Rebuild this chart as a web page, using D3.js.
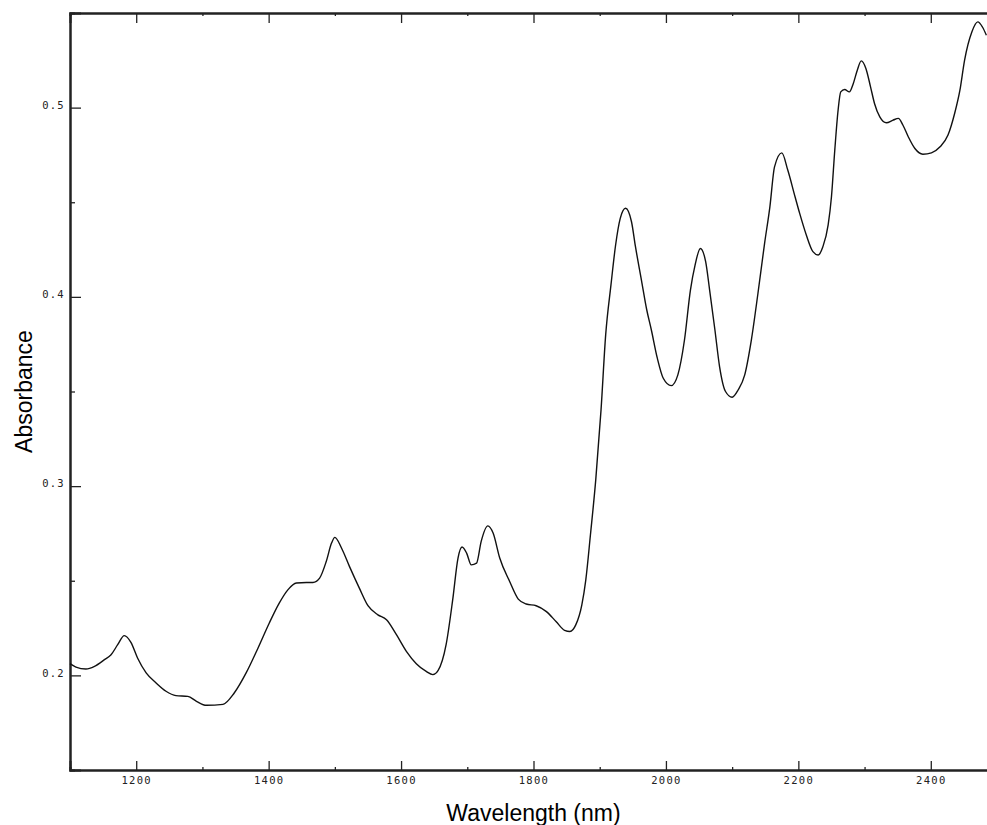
<!DOCTYPE html>
<html>
<head>
<meta charset="utf-8">
<script src="https://cdn.jsdelivr.net/npm/d3@7"></script>
<style>
  body { margin: 0; background: #fff; }
  .tick text { font-family: "DejaVu Sans Mono", monospace; font-size: 10.5px; letter-spacing: 1.3px; fill: #222; }
  .title { font-family: "Liberation Sans", Arial, sans-serif; font-size: 23px; fill: #000; }
</style>
</head>
<body>
<svg width="987" height="825"></svg>
<script>
// Spectrum
const wavelength = [1100, 1109, 1124, 1137, 1152, 1162, 1172, 1182, 1192, 1202, 1215, 1230, 1245, 1260, 1278, 1291, 1306, 1331, 1348, 1366, 1384, 1401, 1416, 1429, 1442, 1457,
  1467, 1477, 1487, 1495, 1500, 1510, 1522, 1537, 1550, 1565, 1578, 1593, 1608, 1623, 1638, 1648, 1656, 1668, 1678, 1686, 1692, 1699, 1706, 1714, 1721, 1731, 1739, 1749,
  1764, 1777, 1789, 1804, 1819, 1834, 1847, 1855, 1864, 1873, 1879, 1886, 1894, 1902, 1909, 1917, 1924, 1931, 1939, 1948, 1954, 1963, 1971, 1978, 1987, 1996, 2008,
  2018, 2028, 2037, 2044, 2052, 2060, 2066, 2074, 2081, 2090, 2100, 2109, 2119, 2129, 2139, 2149, 2157, 2164, 2175, 2184, 2195, 2202, 2212, 2222, 2230, 2237, 2245,
  2250, 2255, 2260, 2264, 2270, 2277, 2283, 2289, 2295, 2302, 2309, 2315, 2323, 2333, 2343, 2351, 2358, 2366, 2376, 2388, 2401, 2414, 2426, 2436, 2444, 2451, 2462,
  2471, 2478, 2484];
const absorbance = [0.2062, 0.2044, 0.2034, 0.2048, 0.2083, 0.2109, 0.2162, 0.2210, 0.2174, 0.2092, 0.2013, 0.1960, 0.1916, 0.1893, 0.1889, 0.1863, 0.1842, 0.1847,
  0.1907, 0.2013, 0.2145, 0.2277, 0.2382, 0.2452, 0.2488, 0.2491,
  0.2491, 0.2514, 0.2602, 0.2699, 0.2729, 0.2673, 0.2576, 0.2461, 0.2368, 0.2320, 0.2294, 0.2215, 0.2127, 0.2062, 0.2021, 0.2004, 0.2026, 0.2162, 0.2400, 0.2620,
  0.2678, 0.2646, 0.2584, 0.2593, 0.2708, 0.2790, 0.2752, 0.2620,
  0.2496, 0.2403, 0.2377, 0.2368, 0.2338, 0.2285, 0.2238, 0.2232, 0.2268, 0.2373, 0.2505, 0.2743, 0.3033, 0.3403, 0.3799, 0.4063, 0.4274, 0.4415, 0.4468, 0.4397,
  0.4265, 0.4089, 0.3932, 0.3825, 0.3676, 0.3570, 0.3531,
  0.3588, 0.3772, 0.4036, 0.4168, 0.4256, 0.4186, 0.4036, 0.3825, 0.3632, 0.3500, 0.3470, 0.3508, 0.3588, 0.3772, 0.4019, 0.4283, 0.4476, 0.4687, 0.4761, 0.4670,
  0.4529, 0.4441, 0.4327, 0.4239, 0.4221, 0.4265, 0.4380,
  0.4529, 0.4775, 0.4986, 0.5083, 0.5096, 0.5083, 0.5128, 0.5198, 0.5247, 0.5207, 0.5110, 0.5022, 0.4951, 0.4920, 0.4934, 0.4943, 0.4907, 0.4846, 0.4784, 0.4754,
  0.4761, 0.4793, 0.4855, 0.4969, 0.5092, 0.5250, 0.5400,
  0.5453, 0.5426, 0.5382];

// Tick values
const xMajor = [1200, 1400, 1600, 1800, 2000, 2200, 2400];
const xMinor = [1100, 1300, 1500, 1700, 1900, 2100, 2300];
const yMajor = [0.2, 0.3, 0.4, 0.5];
const yMinor = [0.25, 0.35, 0.45];

const svg = d3.select("svg");
const m = { left: 70, right: 997, top: 13, bottom: 770 };

const x = d3.scaleLinear().domain([1100, 2500]).range([m.left, m.right]);
const y = d3.scaleLinear().domain([0.15, 0.55]).range([m.bottom, m.top]);

// Bottom axis
svg.append("g")
    .attr("transform", `translate(0,${m.bottom})`)
    .call(d3.axisBottom(x).tickValues(xMinor).tickSize(-3).tickFormat(""));
svg.append("g")
    .attr("transform", `translate(0,${m.bottom})`)
    .call(d3.axisBottom(x).tickValues(xMajor).tickSize(-9).tickPadding(7).tickFormat(d3.format("d")));

// Top axis (ticks only)
svg.append("g")
    .attr("transform", `translate(0,${m.top})`)
    .call(d3.axisTop(x).tickValues(xMinor).tickSize(-3).tickFormat(""));
svg.append("g")
    .attr("transform", `translate(0,${m.top})`)
    .call(d3.axisTop(x).tickValues(xMajor).tickSize(-10).tickFormat(""));

// Left axis
svg.append("g")
    .attr("transform", `translate(${m.left},0)`)
    .call(d3.axisLeft(y).tickValues(yMinor).tickSize(-5).tickFormat(""));
svg.append("g")
    .attr("class", "yaxis")
    .attr("transform", `translate(${m.left},0)`)
    .call(d3.axisLeft(y).tickValues(yMajor).tickSize(-11).tickPadding(5).tickFormat(d3.format(".1f")));
svg.selectAll(".yaxis .tick text").attr("dy", "0.06em");

// Right axis (ticks only)
svg.append("g")
    .attr("transform", `translate(${m.right},0)`)
    .call(d3.axisRight(y).tickValues(yMajor).tickSize(-10).tickFormat(""));

svg.selectAll(".domain").attr("stroke", "#222").attr("stroke-width", 2);
svg.selectAll(".tick line").attr("stroke", "#222").attr("stroke-width", 1.3);

// Spectrum
const pts = wavelength.map((w, i) => [w, absorbance[i]]);
svg.append("path")
    .datum(pts)
    .attr("fill", "none")
    .attr("stroke", "#111")
    .attr("stroke-width", 1.4)
    .attr("d", d3.line()
        .x(d => x(d[0]))
        .y(d => y(d[1]))
        .curve(d3.curveMonotoneX));

// Titles
svg.append("text")
    .attr("class", "title")
    .attr("x", (m.left + m.right) / 2)
    .attr("y", 821)
    .attr("text-anchor", "middle")
    .text("Wavelength (nm)");

svg.append("text")
    .attr("class", "title")
    .attr("transform", `translate(32,${(m.top + m.bottom) / 2}) rotate(-90)`)
    .attr("text-anchor", "middle")
    .text("Absorbance");
</script>
</body>
</html>
